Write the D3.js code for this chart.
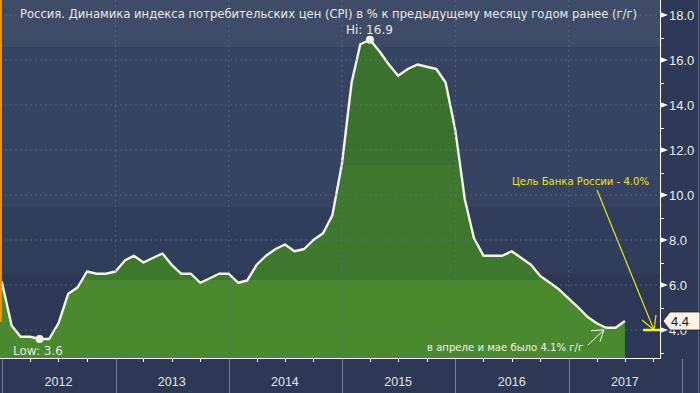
<!DOCTYPE html>
<html>
<head>
<meta charset="utf-8">
<script src="https://cdn.jsdelivr.net/npm/d3@7"></script>
<style>
  html, body { margin: 0; padding: 0; background: #2c3855; }
  svg { display: block; }
</style>
</head>
<body>
<div id="chart"></div>
<script>
// monthly CPI y/y, point placed at month end
const months = [
  "2011-11","2011-12",
  "2012-01","2012-02","2012-03","2012-04","2012-05","2012-06","2012-07","2012-08","2012-09","2012-10","2012-11","2012-12",
  "2013-01","2013-02","2013-03","2013-04","2013-05","2013-06","2013-07","2013-08","2013-09","2013-10","2013-11","2013-12",
  "2014-01","2014-02","2014-03","2014-04","2014-05","2014-06","2014-07","2014-08","2014-09","2014-10","2014-11","2014-12",
  "2015-01","2015-02","2015-03","2015-04","2015-05","2015-06","2015-07","2015-08","2015-09","2015-10","2015-11","2015-12",
  "2016-01","2016-02","2016-03","2016-04","2016-05","2016-06","2016-07","2016-08","2016-09","2016-10","2016-11","2016-12",
  "2017-01","2017-02","2017-03","2017-04","2017-05","2017-06"
];
const cpi = [
  6.8, 6.1,
  4.2, 3.7, 3.7, 3.6, 3.6, 4.3, 5.6, 5.9, 6.6, 6.5, 6.5, 6.6,
  7.1, 7.3, 7.0, 7.2, 7.4, 6.9, 6.5, 6.5, 6.1, 6.3, 6.5, 6.5,
  6.1, 6.2, 6.9, 7.3, 7.6, 7.8, 7.5, 7.6, 8.0, 8.3, 9.1, 11.4,
  15.0, 16.7, 16.9, 16.4, 15.8, 15.3, 15.6, 15.8, 15.7, 15.6, 15.0, 12.9,
  9.8, 8.1, 7.3, 7.3, 7.3, 7.5, 7.2, 6.9, 6.4, 6.1, 5.8, 5.4,
  5.0, 4.6, 4.3, 4.1, 4.1, 4.4
];
const years = [2012, 2013, 2014, 2015, 2016, 2017];
const yTicks = [4, 6, 8, 10, 12, 14, 16, 18];
const targetRate = 4.0;
const lastValue = 4.4;

const title = "Россия. Динамика индекса потребительских цен (CPI) в % к предыдущему месяцу годом ранее (г/г)";
const hiLabel = "Hi: 16.9";
const lowLabel = "Low: 3.6";
const noteApril = "в апреле и мае было 4.1% г/г";
const noteTarget = "Цель Банка России - 4.0%";

const W = 700, H = 393;
const plotRight = 660, plotBottom = 358;

const svg = d3.select("#chart").append("svg")
  .attr("width", W).attr("height", H);

const defs = svg.append("defs");

// banded background
const bg = defs.append("linearGradient").attr("id", "bg")
  .attr("gradientUnits", "userSpaceOnUse")
  .attr("x1", 0).attr("y1", 0).attr("x2", 0).attr("y2", plotBottom);
[[0, "#3e4c67"], [47, "#3e4c67"], [47, "#364461"], [207, "#364461"], [207, "#313e5b"],
 [274, "#313e5b"], [274, "#2c3855"], [358, "#2c3855"]].forEach(s => {
  bg.append("stop").attr("offset", s[0] / plotBottom).attr("stop-color", s[1]);
});

const gr = defs.append("linearGradient").attr("id", "green")
  .attr("gradientUnits", "userSpaceOnUse")
  .attr("x1", 0).attr("y1", 0).attr("x2", 0).attr("y2", plotBottom);
[[0, "#3b712f"], [165, "#3b712f"], [165, "#3e772e"], [280, "#3e772e"], [280, "#4a892d"], [358, "#4a892d"]]
  .forEach(s => gr.append("stop").attr("offset", s[0] / plotBottom).attr("stop-color", s[1]));

defs.append("clipPath").attr("id", "clip")
  .append("rect").attr("x", 0).attr("y", 0).attr("width", plotRight).attr("height", plotBottom);

svg.append("rect").attr("x", 0).attr("y", 0).attr("width", plotRight).attr("height", plotBottom)
  .attr("fill", "url(#bg)");

const parse = d3.timeParse("%Y-%m");
const data = months.map((m, i) => {
  const d = parse(m);
  return { date: d3.timeMonth.offset(d, 1), value: cpi[i] };
});

const x = d3.scaleTime()
  .domain([new Date(2012, 0, 1), new Date(2018, 0, 1)])
  .range([2, 682]);
const y = d3.scaleLinear()
  .domain([2.756, 18])
  .range([plotBottom, 15]);

// area + line
const plot = svg.append("g").attr("clip-path", "url(#clip)");

plot.append("path").datum(data)
  .attr("fill", "url(#green)")
  .attr("d", d3.area().x(d => x(d.date)).y0(plotBottom).y1(d => y(d.value)));

// grid
const grid = svg.append("g");
grid.selectAll("line.h").data(yTicks).join("line")
  .attr("x1", 0).attr("x2", plotRight)
  .attr("y1", d => y(d)).attr("y2", d => y(d))
  .attr("stroke", "#56789a").attr("stroke-opacity", 0.6)
  .attr("stroke-dasharray", "2,3");
grid.selectAll("line.v").data(years.slice(1)).join("line")
  .attr("x1", d => x(new Date(d, 0, 1))).attr("x2", d => x(new Date(d, 0, 1)))
  .attr("y1", 0).attr("y2", plotBottom)
  .attr("stroke", "#56789a").attr("stroke-opacity", 0.6)
  .attr("stroke-dasharray", "2,3");

plot.append("path").datum(data)
  .attr("fill", "none")
  .attr("stroke", "#f7f2ea")
  .attr("stroke-width", 2.4)
  .attr("stroke-linejoin", "round")
  .attr("d", d3.line().x(d => x(d.date)).y(d => y(d.value)));

// orange left marker
svg.append("line").attr("x1", 1).attr("x2", 1).attr("y1", 0).attr("y2", 322)
  .attr("stroke", "#f39200").attr("stroke-width", 2);

// hi / low markers
const hi = data.reduce((a, b) => b.value > a.value ? b : a);
const lo = data.reduce((a, b) => b.value < a.value ? b : a);
[hi, lo].forEach(p => {
  svg.append("circle").attr("cx", x(p.date)).attr("cy", y(p.value)).attr("r", 4)
    .attr("fill", "#f7f0e6");
});
svg.append("text").attr("x", x(hi.date) - 24).attr("y", y(hi.value) - 6)
  .attr("fill", "#e8e8e8").attr("font-family", "DejaVu Sans").attr("font-size", 12)
  .text(hiLabel);
svg.append("text").attr("x", 13).attr("y", y(lo.value) + 16)
  .attr("fill", "#e8e8e8").attr("font-family", "DejaVu Sans").attr("font-size", 12)
  .text(lowLabel);

// title
svg.append("text").attr("x", 20).attr("y", 18)
  .attr("fill", "#e8e8e8").attr("font-family", "DejaVu Sans").attr("font-size", 11.6)
  .text(title);

// axes
svg.append("rect").attr("x", plotRight).attr("y", 0).attr("width", W - plotRight).attr("height", H)
  .attr("fill", "#2d3956");
svg.append("rect").attr("x", 0).attr("y", plotBottom).attr("width", plotRight).attr("height", H - plotBottom)
  .attr("fill", "#2c3855");

svg.append("line").attr("x1", plotRight + 0.5).attr("x2", plotRight + 0.5).attr("y1", 0).attr("y2", plotBottom + 1)
  .attr("stroke", "#ffffff");
svg.append("line").attr("x1", 0).attr("x2", plotRight).attr("y1", plotBottom + 0.5).attr("y2", plotBottom + 0.5)
  .attr("stroke", "#ffffff");
svg.append("line").attr("x1", 698.5).attr("x2", 698.5).attr("y1", 0).attr("y2", H)
  .attr("stroke", "#55627c");

const minor = d3.range(3, 18, 2);
svg.selectAll("line.minor").data(minor).join("line")
  .attr("x1", plotRight).attr("x2", plotRight + 4)
  .attr("y1", d => Math.round(y(d)) + 0.5).attr("y2", d => Math.round(y(d)) + 0.5)
  .attr("stroke", "#ffffff");
svg.selectAll("path.tri").data(yTicks).join("path")
  .attr("d", d => `M${plotRight},${y(d) - 3}L${plotRight + 8},${y(d)}L${plotRight},${y(d) + 3}Z`)
  .attr("fill", "#ffffff");
svg.selectAll("text.yt").data(yTicks).join("text")
  .attr("x", plotRight + 9).attr("y", d => y(d) + 5)
  .attr("fill", "#eeeeee").attr("font-family", "Liberation Sans").attr("font-size", 13)
  .text(d => d3.format(".1f")(d));

// x axis: year separators, quarter ticks, labels
svg.selectAll("line.sep").data(years.concat([2018])).join("line")
  .attr("x1", d => Math.round(x(new Date(d, 0, 1))) + 0.5).attr("x2", d => Math.round(x(new Date(d, 0, 1))) + 0.5)
  .attr("y1", plotBottom + 1).attr("y2", H)
  .attr("stroke", "#75809a");
const quarters = d3.timeMonth.every(3).range(new Date(2012, 0, 1), new Date(2018, 0, 1))
  .filter(d => d.getMonth() !== 0 && x(d) < plotRight);
svg.selectAll("line.q").data(quarters).join("line")
  .attr("x1", d => Math.round(x(d)) + 0.5).attr("x2", d => Math.round(x(d)) + 0.5)
  .attr("y1", plotBottom).attr("y2", plotBottom + 4)
  .attr("stroke", "#ffffff");
svg.selectAll("text.yr").data(years).join("text")
  .attr("x", d => x(new Date(d, 6, 1)))
  .attr("y", 386)
  .attr("text-anchor", "middle")
  .attr("fill", "#e6e6e6").attr("font-family", "Liberation Sans").attr("font-size", 12.5)
  .text(d => d);

// annotation: April/May
svg.append("text").attr("x", 427).attr("y", 351)
  .attr("fill", "#f2f2f2").attr("font-family", "DejaVu Sans").attr("font-size", 10.1)
  .text(noteApril);
const aprMay = data[data.length - 3];
const ax = x(aprMay.date) - 2, ay = y(aprMay.value) + 2;
svg.append("line").attr("x1", 588).attr("y1", 345).attr("x2", ax).attr("y2", ay)
  .attr("stroke", "#ffffff").attr("stroke-width", 1);
svg.append("path")
  .attr("d", `M${ax - 13},${ay + 1}L${ax},${ay}L${ax - 4},${ay + 12}`)
  .attr("fill", "none").attr("stroke", "#ffffff").attr("stroke-width", 1);

// annotation: CBR target
svg.append("text").attr("x", 512).attr("y", 185)
  .attr("fill", "#e6e619").attr("font-family", "DejaVu Sans").attr("font-size", 10.1)
  .text(noteTarget);
const tx = 654, ty = y(targetRate);
svg.append("line").attr("x1", 597).attr("y1", 190).attr("x2", tx).attr("y2", ty)
  .attr("stroke", "#e6e619").attr("stroke-width", 1.2);
svg.append("path")
  .attr("d", `M${tx - 12},${ty - 10}L${tx},${ty}L${tx + 2},${ty - 15}`)
  .attr("fill", "none").attr("stroke", "#e6e619").attr("stroke-width", 1.2);
svg.append("line").attr("x1", 643).attr("x2", plotRight).attr("y1", ty).attr("y2", ty)
  .attr("stroke", "#f0f020").attr("stroke-width", 2.5);

// last value tag
const ly = y(lastValue);
svg.append("path")
  .attr("d", `M663,${ly}L670,${ly - 9}L700,${ly - 9}L700,${ly + 9}L670,${ly + 9}Z`)
  .attr("fill", "#fdf3e3").attr("stroke", "#222222").attr("stroke-width", 0.8);
svg.append("text").attr("x", 671).attr("y", ly + 5)
  .attr("fill", "#111111").attr("font-family", "Liberation Sans").attr("font-size", 13)
  .text(d3.format(".1f")(lastValue));
</script>
</body>
</html>
